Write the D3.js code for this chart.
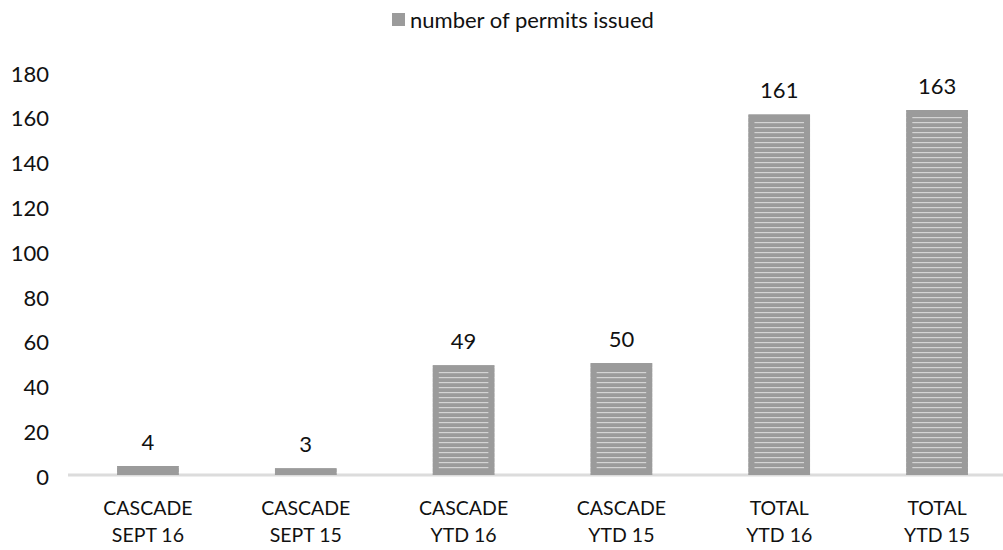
<!DOCTYPE html>
<html>
<head>
<meta charset="utf-8">
<script src="https://cdn.jsdelivr.net/npm/d3@7"></script>
<style>
  body { margin: 0; background: #fff; }
  svg { display: block; font-family: Lato, "Open Sans", sans-serif; }
</style>
</head>
<body>
<svg id="chart" width="1003" height="550"></svg>
<script>
// categories (two line labels) and values
var categories = ["CASCADE|SEPT 16", "CASCADE|SEPT 15", "CASCADE|YTD 16", "CASCADE|YTD 15", "TOTAL|YTD 16", "TOTAL|YTD 15"];
var permits = [4, 3, 49, 50, 161, 163];
var yTicks = [0, 20, 40, 60, 80, 100, 120, 140, 160, 180];
var seriesName = "number of permits issued";

var svg = d3.select("#chart");
var width = +svg.attr("width"), height = +svg.attr("height");

var x = d3.scaleBand()
          .domain(categories)
          .range([69, 1016])
          .paddingInner(0.61)
          .paddingOuter(0.305);

var y = d3.scaleLinear()
          .domain([0, 180])
          .range([475, 72]);

// streaky gray fill like the scanned original
var defs = svg.append("defs");
var pat = defs.append("pattern")
              .attr("id", "streaks")
              .attr("patternUnits", "userSpaceOnUse")
              .attr("width", 6)
              .attr("height", 5);
pat.append("rect").attr("width", 6).attr("height", 5).attr("fill", "#9b9b9b");
pat.append("rect").attr("y", 2).attr("width", 6).attr("height", 1.2).attr("fill", "#d4d4d4");

// baseline
svg.append("line")
   .attr("x1", 68).attr("x2", 1003)
   .attr("y1", y(0)).attr("y2", y(0))
   .attr("stroke", "#dcdcdc")
   .attr("stroke-width", 3);

// y tick labels (no axis line, no gridlines)
svg.append("g")
   .selectAll("text")
   .data(yTicks)
   .enter()
   .append("text")
   .attr("x", 49)
   .attr("y", function (d) { return y(d) + 2; })
   .attr("dy", "0.35em")
   .attr("text-anchor", "end")
   .attr("font-size", 22)
   .attr("fill", "#111")
   .text(function (d) { return d; });

// bars
var bars = svg.append("g")
   .selectAll("g")
   .data(permits)
   .enter()
   .append("g");

bars.append("rect")
    .attr("x", function (d, i) { return x(categories[i]); })
    .attr("y", function (d) { return y(d); })
    .attr("width", x.bandwidth())
    .attr("height", function (d) { return y(0) - y(d); })
    .attr("fill", "url(#streaks)");

// solid edges around the streaks
bars.append("rect")
    .attr("x", function (d, i) { return x(categories[i]) + 3; })
    .attr("y", function (d) { return y(d) + 3; })
    .attr("width", x.bandwidth() - 6)
    .attr("height", function (d) { return Math.max(0, y(0) - y(d) - 6); })
    .attr("fill", "none")
    .attr("stroke", "#9b9b9b")
    .attr("stroke-width", 6);

// value labels
bars.append("text")
    .attr("x", function (d, i) { return x(categories[i]) + x.bandwidth() / 2; })
    .attr("y", function (d) { return y(d) - 24; })
    .attr("dy", "0.35em")
    .attr("text-anchor", "middle")
    .attr("font-size", 22)
    .attr("fill", "#111")
    .text(function (d) { return d; });

// category labels
var cat = svg.append("g")
   .selectAll("text")
   .data(categories)
   .enter()
   .append("text")
   .attr("text-anchor", "middle")
   .attr("font-size", 19.5)
   .attr("fill", "#111")
   .attr("x", function (d) { return x(d) + x.bandwidth() / 2; });

cat.append("tspan")
   .attr("x", function (d) { return x(d) + x.bandwidth() / 2; })
   .attr("y", 508)
   .attr("dy", "0.35em")
   .text(function (d) { return d.split("|")[0]; });
cat.append("tspan")
   .attr("x", function (d) { return x(d) + x.bandwidth() / 2; })
   .attr("y", 535)
   .attr("dy", "0.35em")
   .text(function (d) { return d.split("|")[1]; });

// legend
var legend = svg.append("g");
legend.append("rect")
      .attr("x", 392).attr("y", 13)
      .attr("width", 13).attr("height", 13)
      .attr("fill", "#9b9b9b");
legend.append("text")
      .attr("x", 410).attr("y", 20)
      .attr("dy", "0.35em")
      .attr("font-size", 22)
      .attr("fill", "#111")
      .text(seriesName);
</script>
</body>
</html>
